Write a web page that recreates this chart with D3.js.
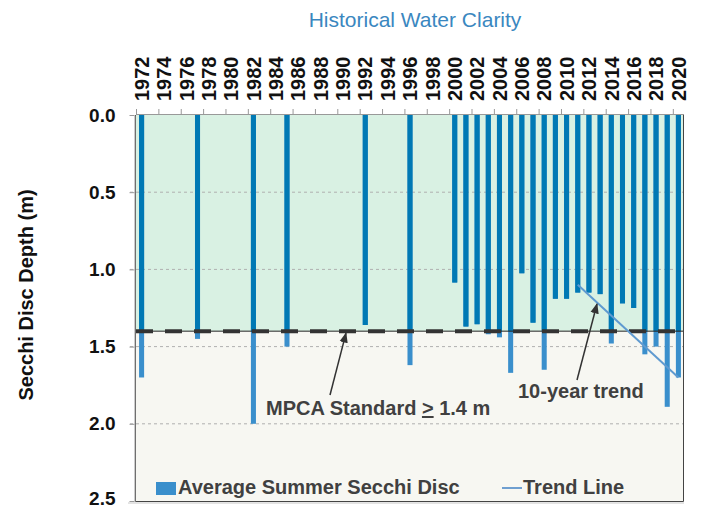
<!DOCTYPE html>
<html>
<head>
<meta charset="utf-8">
<script src="https://cdn.jsdelivr.net/npm/d3@7"></script>
<style>
  body { margin: 0; background: #fff; }
  svg { display: block; }
  text { font-family: "Liberation Sans", Arial, sans-serif; }
</style>
</head>
<body>
<svg width="701" height="509"></svg>
<script>
// chart data
const years = [1972, 1977, 1982, 1985, 1992, 1996,
  2000, 2001, 2002, 2003, 2004, 2005, 2006, 2007, 2008, 2009, 2010,
  2011, 2012, 2013, 2014, 2015, 2016, 2017, 2018, 2019, 2020];
const secchi = [1.70, 1.45, 2.00, 1.50, 1.36, 1.62,
  1.085, 1.37, 1.355, 1.42, 1.44, 1.67, 1.025, 1.345, 1.65, 1.19, 1.19,
  1.15, 1.15, 1.16, 1.48, 1.22, 1.25, 1.55, 1.50, 1.89, 1.70];
const trendYears = [2011, 2020];
const trendValues = [1.10, 1.70];
const standard = 1.4;
const yearLabels = d3.range(1972, 2021, 2);
const depthTicks = [0, 0.5, 1.0, 1.5, 2.0, 2.5];

const svg = d3.select('svg');
const margin = { top: 115, right: 17, bottom: 8, left: 136 };
const width = +svg.attr('width');
const height = +svg.attr('height');
const x0 = margin.left, x1 = width - margin.right;
const y0 = margin.top, y1 = height - margin.bottom;

const x = d3.scaleBand()
  .domain(d3.range(1972, 2021))
  .range([x0, x1])
  .paddingInner(0.55)
  .paddingOuter(0.275);
const y = d3.scaleLinear().domain([0, 2.5]).range([y0, y1]);
const cx = (yr) => x(yr) + x.bandwidth() / 2;

const darkText = '#404040';

// title
svg.append('text')
  .attr('x', 415).attr('y', 27)
  .attr('text-anchor', 'middle')
  .style('font-size', '21px')
  .attr('fill', '#3a87c0')
  .text('Historical Water Clarity');

// backgrounds: meets the standard (green) and below it
svg.append('rect')
  .attr('x', x0).attr('y', y(0))
  .attr('width', x1 - x0).attr('height', y(standard) - y(0))
  .attr('fill', '#d9f1e3');
svg.append('rect')
  .attr('x', x0).attr('y', y(standard))
  .attr('width', x1 - x0).attr('height', y(2.5) - y(standard))
  .attr('fill', '#f7f7f2');

// dashed grid
svg.append('g')
  .selectAll('line')
  .data(depthTicks.filter((d) => d > 0 && d < 2.5))
  .join('line')
  .attr('x1', x0 - 6).attr('x2', x1)
  .attr('y1', (d) => y(d)).attr('y2', (d) => y(d))
  .attr('stroke', '#b0b0b0')
  .attr('stroke-dasharray', '3,3');

// bars: full depth in lighter blue, the part above the standard darker
const bars = svg.append('g');
bars.selectAll('rect.low')
  .data(years)
  .join('rect')
  .attr('class', 'low')
  .attr('x', (d) => x(d))
  .attr('y', y(0))
  .attr('width', x.bandwidth())
  .attr('height', (d, i) => y(secchi[i]) - y(0))
  .attr('fill', '#3a8fcc');
bars.selectAll('rect.high')
  .data(years)
  .join('rect')
  .attr('class', 'high')
  .attr('x', (d) => x(d))
  .attr('y', y(0))
  .attr('width', x.bandwidth())
  .attr('height', (d, i) => y(Math.min(secchi[i], standard)) - y(0))
  .attr('fill', '#0079b4');

// standard line
svg.append('line')
  .attr('x1', x0).attr('x2', x1)
  .attr('y1', y(standard)).attr('y2', y(standard))
  .attr('stroke', '#222').attr('stroke-width', 1);
svg.append('line')
  .attr('x1', x0).attr('x2', x1)
  .attr('y1', y(standard)).attr('y2', y(standard))
  .attr('stroke', '#333').attr('stroke-width', 4)
  .attr('stroke-dasharray', '17,12');

// trend line
const line = d3.line().x((d) => cx(d[0])).y((d) => y(d[1]));
svg.append('path')
  .datum(d3.zip(trendYears, trendValues))
  .attr('d', line)
  .attr('fill', 'none')
  .attr('stroke', '#5f9ad0')
  .attr('stroke-width', 2);

// frame
svg.append('path')
  .attr('d', `M${x0 - 0.5},${y0} V${y1 + 0.5} H${x1 - 0.5} V${y0}`)
  .attr('fill', 'none')
  .attr('stroke', '#444');
svg.append('line')
  .attr('x1', x0 - 8).attr('x2', x1)
  .attr('y1', y1 + 2).attr('y2', y1 + 2)
  .attr('stroke', '#c8c8c8');

// top axis: tick marks at band edges, labels rotated
svg.append('line')
  .attr('x1', x0).attr('x2', x1)
  .attr('y1', y0 - 0.5).attr('y2', y0 - 0.5)
  .attr('stroke', '#999');
svg.append('g')
  .selectAll('line')
  .data(yearLabels)
  .join('line')
  .attr('x1', (d) => x(d) - x.step() * 0.275 + 0.5)
  .attr('x2', (d) => x(d) - x.step() * 0.275 + 0.5)
  .attr('y1', y0 - 6).attr('y2', y0)
  .attr('stroke', '#999');

const xAxis = svg.append('g')
  .attr('transform', 'translate(0,101)')
  .call(d3.axisTop(x).tickValues(yearLabels).tickSize(0));
xAxis.select('.domain').remove();
xAxis.selectAll('text')
  .attr('transform', 'rotate(-90)')
  .attr('x', 0).attr('y', 0).attr('dy', '0.36em')
  .attr('text-anchor', 'start')
  .style('font-size', '20px')
  .style('font-weight', 'bold')
  .style('font-family', '"Liberation Sans", Arial, sans-serif')
  .attr('fill', '#111');

// left axis
const yAxis = svg.append('g')
  .attr('transform', `translate(${x0 - 1.5},0)`)
  .call(d3.axisLeft(y).tickValues(depthTicks).tickFormat(d3.format('.1f'))
    .tickSize(5).tickPadding(14).tickSizeOuter(0));
yAxis.select('.domain').attr('stroke', '#999');
yAxis.selectAll('.tick line').attr('stroke', '#999');
yAxis.selectAll('text')
  .style('font-size', '19px')
  .style('font-weight', 'bold')
  .style('font-family', '"Liberation Sans", Arial, sans-serif')
  .attr('fill', '#111');
yAxis.selectAll('text').filter((d) => d === 2.5).attr('dy', '0.2em');

// axis title
svg.append('text')
  .attr('transform', 'translate(33,295) rotate(-90)')
  .attr('text-anchor', 'middle')
  .style('font-size', '20px')
  .style('font-weight', 'bold')
  .attr('fill', '#111')
  .text('Secchi Disc Depth (m)');

// annotations
svg.append('defs').append('marker')
  .attr('id', 'arrow')
  .attr('viewBox', '0 0 10 10')
  .attr('refX', 9).attr('refY', 5)
  .attr('markerWidth', 7).attr('markerHeight', 7)
  .attr('orient', 'auto')
  .append('path')
  .attr('d', 'M0,1 L10,5 L0,9 Z')
  .attr('fill', '#333');

svg.append('line')
  .attr('x1', 330).attr('y1', 395)
  .attr('x2', 346).attr('y2', y(standard) + 2)
  .attr('stroke', '#333').attr('stroke-width', 1.5)
  .attr('marker-end', 'url(#arrow)');
const mpca = svg.append('text')
  .attr('x', 266).attr('y', 415)
  .style('font-size', '20px')
  .style('font-weight', 'bold')
  .attr('fill', darkText);
mpca.append('tspan').text('MPCA Standard ');
mpca.append('tspan').style('text-decoration', 'underline').text('>');
mpca.append('tspan').text(' 1.4 m');

svg.append('line')
  .attr('x1', 577).attr('y1', 380)
  .attr('x2', 597).attr('y2', 304)
  .attr('stroke', '#333').attr('stroke-width', 1.5)
  .attr('marker-end', 'url(#arrow)');
svg.append('text')
  .attr('x', 518).attr('y', 398)
  .style('font-size', '20px')
  .style('font-weight', 'bold')
  .attr('fill', darkText)
  .text('10-year trend');

// legend
const legend = svg.append('g');
legend.append('rect')
  .attr('x', 156).attr('y', 482)
  .attr('width', 20).attr('height', 13)
  .attr('fill', '#3a8fcc');
legend.append('text')
  .attr('x', 178).attr('y', 494)
  .style('font-size', '20px')
  .style('font-weight', 'bold')
  .attr('fill', darkText)
  .text('Average Summer Secchi Disc');
legend.append('line')
  .attr('x1', 502).attr('x2', 522)
  .attr('y1', 488).attr('y2', 488)
  .attr('stroke', '#6f9fd0').attr('stroke-width', 2);
legend.append('text')
  .attr('x', 523).attr('y', 494)
  .style('font-size', '20px')
  .style('font-weight', 'bold')
  .attr('fill', darkText)
  .text('Trend Line');
</script>
</body>
</html>
